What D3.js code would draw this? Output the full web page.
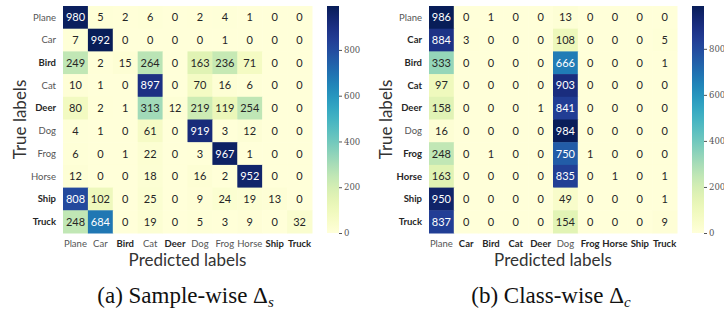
<!DOCTYPE html>
<html>
<head>
<meta charset="utf-8">
<script src="https://cdn.jsdelivr.net/npm/d3@7"></script>
<style>
  body { margin: 0; background: #fff; }
  svg { display: block; }
</style>
</head>
<body>
<svg id="chart" width="724" height="314"></svg>
<script>
const classes = ["Plane", "Car", "Bird", "Cat", "Deer", "Dog", "Frog", "Horse", "Ship", "Truck"];

const sampleWise = [
    [980, 5, 2, 6, 0, 2, 4, 1, 0, 0],
    [7, 992, 0, 0, 0, 0, 1, 0, 0, 0],
    [249, 2, 15, 264, 0, 163, 236, 71, 0, 0],
    [10, 1, 0, 897, 0, 70, 16, 6, 0, 0],
    [80, 2, 1, 313, 12, 219, 119, 254, 0, 0],
    [4, 1, 0, 61, 0, 919, 3, 12, 0, 0],
    [6, 0, 1, 22, 0, 3, 967, 1, 0, 0],
    [12, 0, 0, 18, 0, 16, 2, 952, 0, 0],
    [808, 102, 0, 25, 0, 9, 24, 19, 13, 0],
    [248, 684, 0, 19, 0, 5, 3, 9, 0, 32]
];

const classWise = [
    [986, 0, 1, 0, 0, 13, 0, 0, 0, 0],
    [884, 3, 0, 0, 0, 108, 0, 0, 0, 5],
    [333, 0, 0, 0, 0, 666, 0, 0, 0, 1],
    [97, 0, 0, 0, 0, 903, 0, 0, 0, 0],
    [158, 0, 0, 0, 1, 841, 0, 0, 0, 0],
    [16, 0, 0, 0, 0, 984, 0, 0, 0, 0],
    [248, 0, 1, 0, 0, 750, 1, 0, 0, 0],
    [163, 0, 0, 0, 0, 835, 0, 1, 0, 1],
    [950, 0, 0, 0, 0, 49, 0, 0, 0, 1],
    [837, 0, 0, 0, 0, 154, 0, 0, 0, 9]
];

// labels drawn in bold in each panel
const boldSample = ["Bird", "Deer", "Ship", "Truck"];
const boldClass = ["Car", "Bird", "Cat", "Deer", "Frog", "Horse", "Ship", "Truck"];

const colorbarTicks = [0, 200, 400, 600, 800];

const svg = d3.select("#chart");
const sans = "Lato, 'Open Sans', sans-serif";

// seaborn picks the annotation colour from the cell's luminance
const luminance = function(c) {
    const rgb = d3.rgb(c);
    const lin = v => {
        v = v / 255;
        return v <= 0.03928 ? v / 12.92 : Math.pow((v + 0.055) / 1.055, 2.4);
    };
    return 0.2126 * lin(rgb.r) + 0.7152 * lin(rgb.g) + 0.0722 * lin(rgb.b);
};

const panel = function(opts) {
    const { matrix, bold, left, right, top, bottom, cbLeft, caption, sub } = opts;
    const g = svg.append("g");
    const vmax = d3.max(matrix.flat());
    const color = d3.scaleSequential(d3.interpolateYlGnBu).domain([0, vmax]);

    const x = d3.scaleBand().domain(classes).range([left, right]);
    const y = d3.scaleBand().domain(classes).range([top, bottom]);

    const cells = [];
    matrix.forEach((row, i) => row.forEach((v, j) => cells.push({ r: classes[i], c: classes[j], v })));

    g.append("g")
        .selectAll("rect")
        .data(cells)
        .join("rect")
        .attr("x", d => x(d.c))
        .attr("y", d => y(d.r))
        .attr("width", x.bandwidth() + 0.5)
        .attr("height", y.bandwidth() + 0.5)
        .attr("fill", d => color(d.v));

    g.append("g")
        .attr("font-family", sans)
        .attr("font-size", 11)
        .attr("text-anchor", "middle")
        .selectAll("text")
        .data(cells)
        .join("text")
        .attr("x", d => x(d.c) + x.bandwidth() / 2)
        .attr("y", d => y(d.r) + y.bandwidth() / 2)
        .attr("dy", "0.36em")
        .attr("fill", d => luminance(color(d.v)) > 0.408 ? "#262626" : "#fff")
        .text(d => d.v);

    // y tick labels
    g.append("g")
        .attr("font-family", sans)
        .attr("font-size", 9.5)
        .attr("text-anchor", "end")
        .selectAll("text")
        .data(classes)
        .join("text")
        .attr("x", left - 7)
        .attr("y", d => y(d) + y.bandwidth() / 2)
        .attr("dy", "0.35em")
        .attr("font-weight", d => bold.includes(d) ? 700 : 400)
        .attr("fill", d => bold.includes(d) ? "#262626" : "#555")
        .text(d => d);

    // x tick labels
    g.append("g")
        .attr("font-family", sans)
        .attr("font-size", 9.5)
        .attr("text-anchor", "middle")
        .selectAll("text")
        .data(classes)
        .join("text")
        .attr("x", d => x(d) + x.bandwidth() / 2)
        .attr("y", bottom + 14)
        .attr("font-weight", d => bold.includes(d) ? 700 : 400)
        .attr("fill", d => bold.includes(d) ? "#262626" : "#555")
        .text(d => d);

    g.append("text")
        .attr("font-family", sans)
        .attr("font-size", 17)
        .attr("fill", "#333")
        .attr("text-anchor", "middle")
        .attr("x", (left + right) / 2)
        .attr("y", bottom + 33)
        .text("Predicted labels");

    g.append("text")
        .attr("font-family", sans)
        .attr("font-size", 17)
        .attr("fill", "#333")
        .attr("text-anchor", "middle")
        .attr("transform", `translate(${left - 37},${(top + bottom) / 2}) rotate(-90)`)
        .text("True labels");

    // colour bar
    const cbW = 12;
    const cy = d3.scaleLinear().domain([0, vmax]).range([bottom, top]);
    const gradId = "grad" + Math.round(left);
    const grad = svg.append("defs").append("linearGradient")
        .attr("id", gradId)
        .attr("x1", 0).attr("y1", 1).attr("x2", 0).attr("y2", 0);
    d3.range(0, 1.0001, 0.05).forEach(t => {
        grad.append("stop").attr("offset", t).attr("stop-color", color(t * vmax));
    });
    g.append("rect")
        .attr("x", cbLeft)
        .attr("y", top)
        .attr("width", cbW)
        .attr("height", bottom - top)
        .attr("fill", `url(#${gradId})`);

    const axis = g.append("g")
        .attr("transform", `translate(${cbLeft + cbW},0)`)
        .call(d3.axisRight(cy).tickValues(colorbarTicks).tickSize(3).tickPadding(2));
    axis.select(".domain").remove();
    axis.selectAll("line").attr("stroke", "#555");
    axis.selectAll("text")
        .attr("font-family", "'DejaVu Serif', 'Liberation Serif', serif")
        .attr("font-size", 8.5)
        .attr("fill", "#555");

    // caption
    const cap = g.append("text")
        .attr("font-family", "'Liberation Serif', 'Times New Roman', serif")
        .attr("font-size", 23)
        .attr("fill", "#111")
        .attr("text-anchor", "middle")
        .attr("x", (left + right) / 2 - 2)
        .attr("y", 303);
    cap.append("tspan").text(caption + " \u0394");
    cap.append("tspan")
        .attr("font-size", 15)
        .attr("font-style", "italic")
        .attr("dy", 4)
        .text(sub);
};

panel({
    matrix: sampleWise, bold: boldSample,
    left: 63, right: 312, top: 6, bottom: 233, cbLeft: 327,
    caption: "(a) Sample-wise", sub: "s"
});

panel({
    matrix: classWise, bold: boldClass,
    left: 429, right: 677, top: 6, bottom: 233, cbLeft: 692,
    caption: "(b) Class-wise", sub: "c"
});
</script>
</body>
</html>
